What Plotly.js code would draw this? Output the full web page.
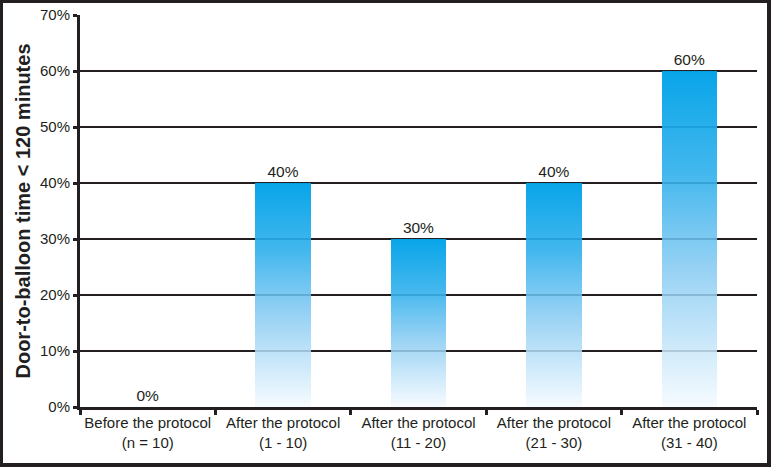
<!DOCTYPE html>
<html>
<head>
<meta charset="utf-8">
<script src="https://cdn.plot.ly/plotly-3.0.1.min.js"></script>
<style>
  html, body { margin: 0; padding: 0; background: #fff; }
  #frame { width: 771px; height: 467px; box-sizing: border-box;
           border-style: solid; border-color: #231F20;
           border-width: 3px 4px 4px 3px; background: #fff; overflow: hidden; }
  #chart { width: 764px; height: 460px; }
</style>
</head>
<body>
<div id="frame"><div id="chart"></div></div>
<script>
const categories = [
  "Before the protocol<br>(n = 10)",
  "After the protocol<br>(1 - 10)",
  "After the protocol<br>(11 - 20)",
  "After the protocol<br>(21 - 30)",
  "After the protocol<br>(31 - 40)"
];
const values = [0, 40, 30, 40, 60];
const valueLabels = ["0%", "40%", "30%", "40%", "60%"];
const yTickValues = [0, 10, 20, 30, 40, 50, 60, 70];
const yTickLabels = ["0%", "10%", "20%", "30%", "40%", "50%", "60%", "70%"];
const yTitle = "Door-to-balloon time < 120 minutes";

const ink = "#231F20";
const font = "Liberation Sans, Arial, Helvetica, sans-serif";

const trace = {
  type: "bar",
  x: categories,
  y: values,
  width: 0.41,
  marker: { color: "#00A3E9", line: { width: 0 } },
  text: valueLabels,
  texttemplate: "%{text}",
  textposition: "outside",
  cliponaxis: false,
  textfont: { family: font, size: 15.5, color: ink },
  hoverinfo: "skip"
};

const layout = {
  width: 764,
  height: 460,
  margin: { l: 77, r: 10, t: 12, b: 56 },
  paper_bgcolor: "#ffffff",
  plot_bgcolor: "#ffffff",
  showlegend: false,
  font: { family: font, size: 15, color: ink },
  xaxis: {
    type: "category",
    showline: true,
    linecolor: ink,
    linewidth: 3,
    ticks: "outside",
    tickson: "boundaries",
    ticklen: 5,
    tickwidth: 3,
    tickcolor: ink,
    tickangle: 0,
    showgrid: false,
    tickfont: { family: font, size: 15, color: ink },
    fixedrange: true
  },
  yaxis: {
    range: [0, 70],
    tickvals: yTickValues,
    ticktext: yTickLabels,
    showline: true,
    linecolor: ink,
    linewidth: 3,
    ticks: "outside",
    ticklen: 4,
    tickwidth: 3,
    tickcolor: ink,
    showgrid: true,
    gridcolor: ink,
    gridwidth: 1.5,
    zeroline: false,
    tickfont: { family: font, size: 15, color: ink },
    title: { text: yTitle, font: { family: font, size: 20, color: ink, weight: "bold" }, standoff: 4 },
    fixedrange: true
  },
  bargap: 0
};

Plotly.newPlot("chart", [trace], layout, { displayModeBar: false, staticPlot: true }).then(gd => {
  const svgNS = "http://www.w3.org/2000/svg";
  const svg = gd.querySelector("svg.main-svg");
  let defs = svg.querySelector("defs");
  if (!defs) { defs = document.createElementNS(svgNS, "defs"); svg.insertBefore(defs, svg.firstChild); }
  const grad = document.createElementNS(svgNS, "linearGradient");
  grad.setAttribute("id", "barGrad");
  grad.setAttribute("x1", "0"); grad.setAttribute("y1", "0");
  grad.setAttribute("x2", "0"); grad.setAttribute("y2", "1");
  const stops = [
    [0, "#00A2E8", 0.97],
    [0.3, "#2DAFEC", 0.9],
    [0.6, "#88CBF2", 0.85],
    [0.85, "#CDE9FA", 0.85],
    [1, "#F6FBFF", 0.9]
  ];
  stops.forEach(([o, c, a]) => {
    const s = document.createElementNS(svgNS, "stop");
    s.setAttribute("offset", o);
    s.setAttribute("stop-color", c);
    s.setAttribute("stop-opacity", a);
    grad.appendChild(s);
  });
  defs.appendChild(grad);
  gd.querySelectorAll(".trace.bars .point path").forEach(p => {
    p.style.fill = "url(#barGrad)";
    p.style.fillOpacity = 1;
  });
});
</script>
</body>
</html>
